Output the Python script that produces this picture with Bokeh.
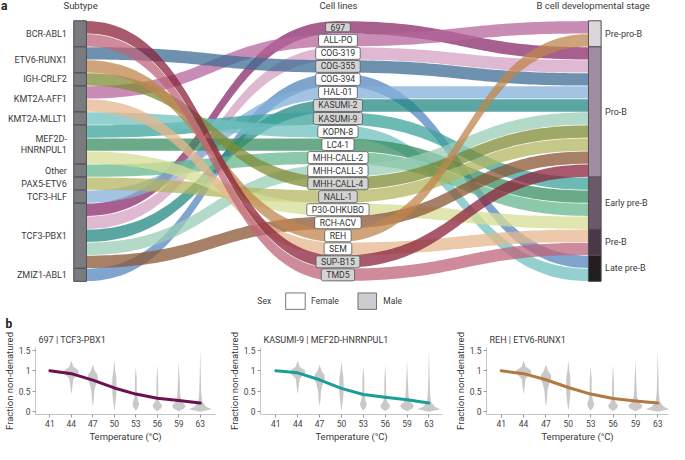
import numpy as np
from bokeh.plotting import figure
from bokeh.models import Range1d, Label, Title, FixedTicker
from bokeh.layouts import column, row
from bokeh.core.properties import value
from bokeh.embed import file_html
from bokeh.resources import INLINE

FONT = "Roboto"
TXT = "#3a3a3a"

# ---------------- data ----------------
subtypes = ["BCR-ABL1", "ETV6-RUNX1", "IGH-CRLF2", "KMT2A-AFF1", "KMT2A-MLLT1",
            "MEF2D-HNRNPUL1", "Other", "PAX5-ETV6", "TCF3-HLF", "TCF3-PBX1", "ZMIZ1-ABL1"]
stages = ["Pre-pro-B", "Pro-B", "Early pre-B", "Pre-B", "Late pre-B"]
stage_colors = ["#ddd5dc", "#a28ca1", "#6b5869", "#4a3849", "#231f20"]

cell_lines = ["697", "ALL-PO", "COG-319", "COG-355", "COG-394", "HAL-01", "KASUMI-2",
              "KASUMI-9", "KOPN-8", "LC4-1", "MHH-CALL-2", "MHH-CALL-3", "MHH-CALL-4",
              "NALL-1", "P30-OHKUBO", "RCH-ACV", "REH", "SEM", "SUP-B15", "TMD5"]
cell_subtype = ["TCF3-PBX1", "KMT2A-AFF1", "TCF3-PBX1", "ETV6-RUNX1", "ZMIZ1-ABL1",
                "TCF3-HLF", "TCF3-PBX1", "MEF2D-HNRNPUL1", "KMT2A-MLLT1", "MEF2D-HNRNPUL1",
                "Other", "TCF3-PBX1", "IGH-CRLF2", "PAX5-ETV6", "MEF2D-HNRNPUL1",
                "TCF3-PBX1", "ETV6-RUNX1", "KMT2A-AFF1", "BCR-ABL1", "BCR-ABL1"]
cell_stage = ["Pro-B", "Pre-pro-B", "Pro-B", "Pro-B", "Late pre-B", "Pro-B", "Pro-B",
              "Early pre-B", "Late pre-B", "Early pre-B", "Early pre-B", "Pro-B", "Pro-B",
              "Pro-B", "Early pre-B", "Pro-B", "Pre-pro-B", "Pre-B", "Pro-B", "Pre-B"]
cell_sex = ["Male", "Female", "Female", "Male", "Female", "Female", "Male", "Male",
            "Female", "Female", "Female", "Female", "Male", "Male", "Female", "Female",
            "Female", "Female", "Male", "Male"]
cell_colors = ["#a65f8e", "#c88cb5", "#dfb8d2", "#6f91b0", "#7fa5cf", "#a2c4e2", "#5aa6a2",
               "#6dbab5", "#95d0d0", "#6aaa88", "#8cc8aa", "#b3d9c9", "#a0a868", "#c6c888",
               "#e1e6b0", "#a88068", "#d0a47a", "#ecc9aa", "#a85a6c", "#cf8a9b"]

temps = [41, 44, 47, 50, 53, 56, 59, 63]
curve_697 = [1.0, 0.93, 0.77, 0.58, 0.43, 0.33, 0.27, 0.21]
curve_kasumi9 = [1.0, 0.95, 0.78, 0.57, 0.42, 0.35, 0.29, 0.21]
curve_reh = [1.0, 0.93, 0.78, 0.59, 0.43, 0.32, 0.26, 0.21]

# violin outlines (value levels, relative half-width) for temps 44..63
vio_levels = [
    [1.25, 1.10, 1.02, 0.95, 0.88, 0.80, 0.60, 0.42],
    [1.15, 1.00, 0.90, 0.80, 0.70, 0.50, 0.30, 0.12],
    [1.25, 1.00, 0.85, 0.60, 0.40, 0.20, 0.02],
    [1.10, 0.80, 0.50, 0.30, 0.18, 0.10, 0.02],
    [1.15, 0.80, 0.40, 0.25, 0.15, 0.08, 0.01],
    [1.25, 0.80, 0.40, 0.25, 0.15, 0.08, 0.01],
    [1.55, 1.00, 0.50, 0.25, 0.12, 0.06, 0.00],
]
vio_density = [
    [0, 2, 7, 8, 5, 2, 1, 0],
    [0, 2, 5, 5.5, 3.5, 1.5, 1, 0],
    [0, 1, 2, 2.3, 2, 1, 0],
    [0, 1, 1, 2, 3.5, 2.5, 0],
    [0, 0.8, 1, 2, 5, 4, 0],
    [0, 0.8, 1.5, 3, 7, 6, 0],
    [0, 0.5, 1, 2, 6, 12, 0],
]

# ---------------- panel a ----------------
TOP_REF = 322.2
p = figure(width=669, height=311, x_range=Range1d(0, 685), y_range=Range1d(TOP_REF, 0),
           toolbar_location=None, output_backend="svg", title=None,
           x_axis_location=None, y_axis_location=None, min_border=0)
p.min_border_left = p.min_border_right = p.min_border_top = p.min_border_bottom = 0
p.outline_line_color = None
p.xgrid.visible = False
p.ygrid.visible = False

U, Y0 = 13.5, 21.0
XL, XM, XR = 88.0, 345.5, 602.0
n = len(cell_lines)
left_order = sorted(range(n), key=lambda i: (subtypes.index(cell_subtype[i]), i))
right_order = sorted(range(n), key=lambda i: (stages.index(cell_stage[i]), i))
lpos = {c: k for k, c in enumerate(left_order)}
rpos = {c: k for k, c in enumerate(right_order)}

tt = np.linspace(0, 1, 60)


def sig(x0, x1, y0, y1):
    xm = (x0 + x1) / 2
    bx = (1 - tt) ** 3 * x0 + 3 * (1 - tt) ** 2 * tt * xm + 3 * (1 - tt) * tt ** 2 * xm + tt ** 3 * x1
    by = (1 - tt) ** 3 * y0 + 3 * (1 - tt) ** 2 * tt * y0 + 3 * (1 - tt) * tt ** 2 * y1 + tt ** 3 * y1
    return bx, by


ALPHA = 0.75


def base_color(hexc):
    c = [int(hexc[k:k + 2], 16) for k in (1, 3, 5)]
    b = [int(max(0, min(255, (v - (1 - ALPHA) * 255) / ALPHA))) for v in c]
    return "#%02x%02x%02x" % tuple(b)


g = 0.35
xs_all, ys_all = [], []
for i in range(n):
    yl, ym, yr = Y0 + U * lpos[i], Y0 + U * i, Y0 + U * rpos[i]
    ax1, ay1 = sig(XL, XM, yl + g, ym + g)
    ax2, ay2 = sig(XM, XR, ym + g, yr + g)
    bx1, by1 = sig(XL, XM, yl + U - g, ym + U - g)
    bx2, by2 = sig(XM, XR, ym + U - g, yr + U - g)
    topx = np.concatenate([ax1, ax2[1:]])
    topy = np.concatenate([ay1, ay2[1:]])
    botx = np.concatenate([bx1, bx2[1:]])[::-1]
    boty = np.concatenate([by1, by2[1:]])[::-1]
    xs_all.append(list(np.concatenate([topx, botx])))
    ys_all.append(list(np.concatenate([topy, boty])))

p.patches(xs_all, ys_all, fill_color=[base_color(c) for c in cell_colors],
          fill_alpha=ALPHA, line_color=None)

# left strata
sub_counts = [cell_subtype.count(s) for s in subtypes]
sub_top = np.cumsum([0] + sub_counts[:-1]) * U + Y0
sub_bot = sub_top + np.array(sub_counts) * U
p.quad(left=75, right=88, top=list(sub_top), bottom=list(sub_bot),
       fill_color="#7a7b7e", line_color="#4f4f52", line_width=1)

# right strata
st_counts = [cell_stage.count(s) for s in stages]
st_top = np.cumsum([0] + st_counts[:-1]) * U + Y0
st_bot = st_top + np.array(st_counts) * U
p.quad(left=602, right=615, top=list(st_top), bottom=list(st_bot),
       fill_color=stage_colors, line_color="#4f4f52", line_width=1)

# subtype labels
lab_x, lab_y, lab_t = [], [], []
for s, a, b in zip(subtypes, sub_top, sub_bot):
    c = (a + b) / 2
    if s == "MEF2D-HNRNPUL1":
        lab_x += [68, 68]
        lab_y += [c - 5.5, c + 5.8]
        lab_t += ["MEF2D-", "HNRNPUL1"]
    else:
        lab_x.append(68)
        lab_y.append(c)
        lab_t.append(s)
p.text(x=lab_x, y=lab_y, text=lab_t, text_font=value(FONT), text_font_size="9px",
       text_color=TXT, text_align="right", text_baseline="middle")

# stage labels
p.text(x=[619] * len(stages), y=list((st_top + st_bot) / 2), text=stages,
       text_font=value(FONT), text_font_size="9px", text_color=TXT,
       text_align="left", text_baseline="middle")

# headers
p.text(x=[82, 346, 608], y=[5.5, 5.5, 5.5],
       text=["Subtype", "Cell lines", "B cell  developmental stage"],
       text_font=value(FONT), text_font_size="9.5px", text_color=TXT,
       text_align="center", text_baseline="middle")
p.text(x=[0.5], y=[5.5], text=["a"], text_font=value(FONT), text_font_size="12px",
       text_font_style="bold", text_color="#222", text_align="left", text_baseline="middle")

# cell line boxes
for i, name in enumerate(cell_lines):
    lab = Label(x=XM, y=Y0 + U * (i + 0.5), text=name, text_align="center",
                text_baseline="middle", text_font=FONT, text_font_size="8.7px",
                text_color="#333333",
                background_fill_color="#d3d3d3" if cell_sex[i] == "Male" else "#ffffff",
                border_line_color="#555555", border_line_width=0.8,
                padding=(5, 1), border_radius=2)
    p.add_layout(lab)

# sex legend
p.quad(left=[292, 366], right=[312, 385], top=[303, 303], bottom=[320, 320],
       fill_color=["#ffffff", "#cdcdcd"], line_color="#555555", line_width=0.8)
p.text(x=[263, 318, 392], y=[311.5, 311.5, 311.5], text=["Sex", "Female", "Male"],
       text_font=value(FONT), text_font_size="8.5px", text_color=TXT,
       text_align="left", text_baseline="middle")


# ---------------- panel b ----------------
def panel(w, fl, fr, xr, title, vals, color, add_b):
    bp = figure(width=w, height=133, x_range=Range1d(*xr), y_range=Range1d(-0.07, 1.57),
                toolbar_location=None, output_backend="svg", title="b" if add_b else None,
                min_border_left=fl, min_border_right=fr, min_border_top=36,
                min_border_bottom=27)
    bp.outline_line_color = None
    bp.xgrid.visible = False
    bp.ygrid.visible = False
    if add_b:
        bp.title.text_font = FONT
        bp.title.text_font_size = "12px"
        bp.title.text_font_style = "bold"
        bp.title.text_color = "#222"
        bp.title.align = "left"
        bp.title.offset = -fl + 1
        bp.title.standoff = 0
    tt_ = Title(text=title, text_font=FONT, text_font_size="9px", text_font_style="normal",
                text_color=TXT, align="left", offset=3, standoff=5)
    bp.add_layout(tt_, "above")
    # violins
    for k, (lev, den) in enumerate(zip(vio_levels, vio_density)):
        cx = k + 1
        hw = np.array(den) / 22.5
        lev = np.array(lev)
        xs = np.concatenate([cx + hw, (cx - hw)[::-1]])
        ys = np.concatenate([lev, lev[::-1]])
        bp.patch(list(xs), list(ys), fill_color="#c9c9c9", line_color=None)
    bp.line(list(range(len(temps))), vals, line_color=color, line_width=3, line_cap="round",
            line_join="round")
    for ax in (bp.xaxis[0], bp.yaxis[0]):
        ax.axis_line_color = "#c4c4c4"
        ax.major_tick_line_color = "#9a9a9a"
        ax.major_tick_out = 3
        ax.major_tick_in = 0
        ax.minor_tick_line_color = None
        ax.major_label_text_font = FONT
        ax.major_label_text_font_size = "8.5px"
        ax.major_label_text_color = "#444444"
        ax.axis_label_text_font = FONT
        ax.axis_label_text_font_size = "9.5px"
        ax.axis_label_text_font_style = "normal"
        ax.axis_label_text_color = TXT
        ax.axis_label_standoff = 1
        ax.major_label_standoff = 2
    bp.xaxis.ticker = FixedTicker(ticks=list(range(len(temps))))
    bp.xaxis.major_label_overrides = {k: str(t) for k, t in enumerate(temps)}
    bp.xaxis.axis_label = "Temperature (\u00b0C)"
    bp.yaxis.ticker = FixedTicker(ticks=[0, 0.5, 1.0, 1.5])
    bp.yaxis.major_label_overrides = {0: "0"}
    bp.yaxis.axis_label = "Fraction non-denatured"
    return bp


p1 = panel(225, 31, 10, (-0.67, 7.71), "697 | TCF3-PBX1", curve_697, "#6d1050", True)
p2 = panel(220, 32, 3, (-0.70, 7.62), "KASUMI-9 | MEF2D-HNRNPUL1", curve_kasumi9, "#1c9e98", False)
p3 = panel(224, 41, 1, (-0.66, 7.48), "REH | ETV6-RUNX1", curve_reh, "#b07a42", False)

layout = column(p, row(p1, p2, p3))
open("out.html", "w").write(file_html(layout, INLINE))
